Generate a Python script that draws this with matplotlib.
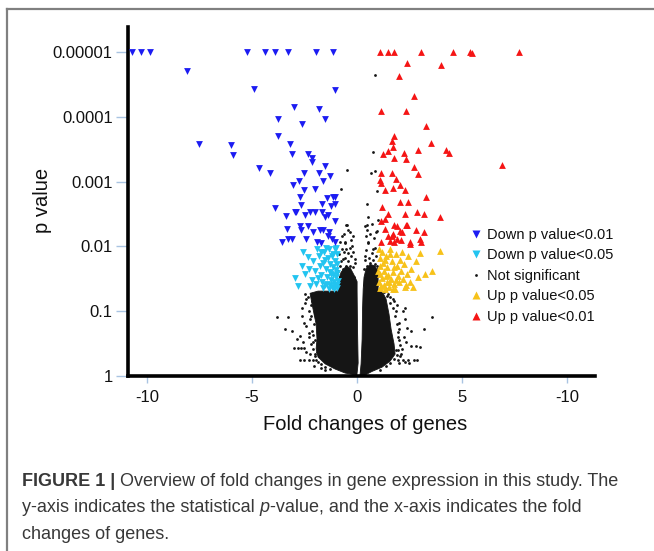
import matplotlib
matplotlib.use('Agg')
import matplotlib.pyplot as plt
from matplotlib.lines import Line2D
from matplotlib.ticker import NullLocator

plt.rcParams['font.family'] = ['Liberation Sans', 'DejaVu Sans']

# ---------------- data ----------------
xtick_vals = [-10, -5, 0, 5, 10]
xtick_labels = ['-10', '-5', '0', '5', '-10']
ytick_vals = [1e-5, 1e-4, 1e-3, 1e-2, 1e-1, 1]
ytick_labels = ['0.00001', '0.0001', '0.001', '0.01', '0.1', '1']

legend_labels = ['Down p value<0.01', 'Down p value<0.05', 'Not significant',
                 'Up p value<0.05', 'Up p value<0.01']

down01_x = [-10.72, -10.30, -9.85, -5.24, -4.39, -3.90, -3.26, -1.97, -1.12,
            -8.07, -4.88, -1.04, -2.99, -1.80, -3.74, -1.53, -2.61, -3.77, -7.5, -5.99,
            -3.2, -5.88, -3.09, -2.34, -2.13, -2.12, -1.53, -4.64, -4.12, -2.5, -1.8, -1.28,
            -3.04, -2.75, -1.61, -2.5, -2.0, -2.7, -1.42, -1.13, -1.04,
            -3.9, -2.67, -2.94, -1.64, -1.04, -1.23, -3.37, -2.47, -1.99, -1.67, -1.36,
            -1.04, -2.31, -1.75, -3.34, -2.67, -2.07, -1.36, -3.26, -3.55, -2.42, -1.91,
            -1.2, -1.72, -1.04, -1.51, -2.7, -3.1, -1.32, -1.61, -2.23, -2.9]
down01_p = [1e-5, 1e-5, 1e-5, 1e-5, 1e-5, 1e-5, 1e-5, 1e-5, 1e-5,
            1.96e-5, 3.75e-5, 3.9e-5, 7.1e-5, 7.5e-5, 1.1e-4, 1.1e-4, 1.31e-4, 2.0e-4, 2.67e-4, 2.75e-4,
            2.67e-4, 3.9e-4, 3.7e-4, 3.7e-4, 4.4e-4, 5.0e-4, 5.7e-4, 6.2e-4, 7.5e-4, 7.5e-4, 7.5e-4, 8.1e-4,
            1.11e-3, 9.7e-4, 9.7e-4, 1.37e-3, 1.28e-3, 1.74e-3, 1.8e-3, 1.74e-3, 1.7e-3,
            2.6e-3, 2.3e-3, 2.9e-3, 2.2e-3, 2.2e-3, 2.4e-3, 3.4e-3, 3.3e-3, 3.0e-3, 2.9e-3, 3.3e-3,
            4.1e-3, 4.8e-3, 5.5e-3, 5.3e-3, 5.5e-3, 6.1e-3, 6.9e-3, 7.8e-3, 8.7e-3, 7.8e-3, 8.5e-3,
            7.6e-3, 9.0e-3, 8.7e-3, 3.5e-3, 4.8e-3, 7.6e-3, 6.1e-3, 5.5e-3, 3.0e-3, 2.9e-3]

down05_x = [-2.94, -2.8, -2.56, -2.32, -1.9, -2.23, -2.6, -2.45, -2.1, -2.0, -2.15, -1.95,
            -1.8, -1.75, -1.7, -1.65, -1.6, -1.55, -1.5, -1.45, -1.42, -1.4, -1.35, -1.3,
            -1.28, -1.25, -1.2, -1.18, -1.15, -1.12, -1.1, -1.08, -1.05, -1.02, -1.0, -0.98,
            -0.96, -0.94, -0.93, -0.92, -1.6, -1.38, -1.22, -1.05, -0.95, -1.85, -1.33,
            -1.12, -1.5, -1.7, -2.3, -1.0, -0.97, -1.27, -1.45]
down05_p = [0.031, 0.041, 0.012, 0.0148, 0.011, 0.041, 0.02, 0.027, 0.017, 0.024, 0.033, 0.038,
            0.014, 0.02, 0.028, 0.035, 0.044, 0.012, 0.016, 0.022, 0.03, 0.038, 0.011, 0.019,
            0.025, 0.033, 0.042, 0.014, 0.021, 0.028, 0.036, 0.045, 0.011, 0.017, 0.023, 0.03,
            0.039, 0.013, 0.026, 0.034, 0.018, 0.015, 0.027, 0.04, 0.019, 0.031, 0.045,
            0.013, 0.04, 0.012, 0.022, 0.0105, 0.044, 0.039, 0.0105]

up05_x = [3.96, 3.56, 3.25, 3.0, 2.69, 2.3, 2.15, 1.05, 1.1, 1.08, 1.12, 1.06, 1.1, 1.2,
          1.25, 1.3, 1.22, 1.28, 1.35, 1.4, 1.45, 1.5, 1.42, 1.55, 1.6, 1.65, 1.7, 1.62,
          1.75, 1.8, 1.85, 1.9, 1.95, 2.0, 2.05, 2.1, 2.2, 2.25, 2.4, 2.45, 2.6, 2.55, 2.8,
          1.15, 1.32, 1.52, 1.72, 1.88, 2.35, 1.02, 1.58, 2.9, 1.38, 1.78]
up05_p = [0.0118, 0.024, 0.027, 0.0125, 0.043, 0.043, 0.012, 0.011, 0.015, 0.02, 0.027, 0.035,
          0.044, 0.012, 0.018, 0.024, 0.031, 0.039, 0.046, 0.014, 0.021, 0.028, 0.035, 0.042,
          0.011, 0.017, 0.025, 0.032, 0.038, 0.045, 0.013, 0.02, 0.029, 0.036, 0.016, 0.024,
          0.032, 0.019, 0.027, 0.014, 0.022, 0.035, 0.017, 0.041, 0.016, 0.036, 0.046, 0.033,
          0.039, 0.024, 0.013, 0.03, 0.029, 0.021]

up01_x = [1.10, 1.50, 1.76, 3.05, 4.60, 5.39, 5.47, 7.71, 2.41, 4.0, 2.02, 2.71, 1.17, 2.36,
          3.31, 1.76, 1.66, 1.70, 3.55, 1.5, 1.26, 2.26, 2.89, 4.24, 4.4, 1.76, 2.36, 6.91,
          2.71, 1.17, 1.66, 2.89, 1.86, 1.1, 1.17, 2.06, 1.36, 1.7, 2.3, 3.31,
          2.06, 2.45, 1.2, 1.46, 1.17, 2.3, 2.85, 3.2, 3.98, 1.76, 2.36, 1.36, 2.06, 2.81,
          3.21, 1.66, 2.1, 1.17, 1.76, 2.55, 3.05, 1.58, 1.9, 1.5, 1.74, 2.14, 2.53, 3.0,
          1.9, 2.38, 1.34]
up01_p = [1e-5, 1e-5, 1e-5, 1e-5, 1e-5, 1e-5, 1.03e-5, 1e-5, 1.49e-5, 1.58e-5, 2.34e-5, 4.7e-5,
          8.1e-5, 8.1e-5, 1.37e-4, 1.96e-4, 2.34e-4, 2.97e-4, 2.54e-4, 3.4e-4, 3.7e-4, 3.56e-4,
          3.2e-4, 3.3e-4, 3.56e-4, 4.3e-4, 4.5e-4, 5.6e-4, 6.0e-4, 7.4e-4, 7.5e-4, 7.6e-4,
          9.0e-4, 9.5e-4, 1.04e-3, 1.13e-3, 1.36e-3, 1.27e-3, 1.33e-3, 1.74e-3,
          2.1e-3, 2.05e-3, 2.5e-3, 3.2e-3, 4.1e-3, 3.2e-3, 3.0e-3, 3.2e-3, 3.5e-3, 4.6e-3,
          4.6e-3, 5.3e-3, 5.8e-3, 5.5e-3, 6.1e-3, 6.9e-3, 8.0e-3, 8.5e-3, 8.7e-3, 9.3e-3,
          8.5e-3, 8.3e-3, 7.8e-3, 6.9e-3, 6.5e-3, 6.1e-3, 8.7e-3, 7.8e-3, 4.9e-3, 4.6e-3, 3.8e-3]

# scattered non-significant genes (read individually)
ns_x = [0.86, 0.77, 0.67, 0.86, 0.96, -0.48, -0.76, 0.47, -0.52, 0.37, -0.72, -0.52,
        -0.48, -0.32, -0.56, -0.72, -0.4, -0.24, -0.64, -0.8, -0.32, -0.48, -0.17, -0.8, -0.09,
        0.47, 0.95, 0.55, 0.79, 0.39, 0.63, 0.95, 0.47, 0.79, 1.02, 0.5,
        1.6, 1.9, 2.2, 3.6, 3.2, 2.6, 2.35, 2.6, 2.8, 3.0, 2.0, 1.95, 2.1, 1.95, 2.2, 2.45,
        2.7, 2.85, 2.05, 1.85, 1.75, 2.3, 1.5, 1.4,
        -3.8, -3.3, -3.4, -2.85, -3.1, -2.6, -2.4, -2.5, -2.3, -2.2, -3.0, -2.8, -2.65, -2.5,
        -2.7, -2.5, -2.3, -2.1, -1.95, -2.1, -2.0, -2.4, -2.2, -2.45, -2.05, -1.7, -1.5,
        # left strip between down-regulated genes and zero
        -0.85, -0.7, -0.55, -0.4, -0.25, -0.12, -0.8, -0.6, -0.45, -0.3, -0.15, -0.88, -0.66,
        -0.5, -0.36, -0.2, -0.78, -0.58, -0.42, -0.28, -0.1, -0.85, -0.62, -0.35, -0.18,
        -0.55, -0.3, -0.8, -0.6, -0.4, -0.2,
        # right strip
        0.35, 0.5, 0.65, 0.8, 0.95, 0.42, 0.58, 0.72, 0.9, 0.33, 0.5, 0.68, 0.85, 0.98, 0.4,
        0.6, 0.75, 0.92, 0.45, 0.7, 0.88, 0.55, 0.8, 0.62, 0.42, 0.9, 0.7, 0.55,
        # ragged left edge of the cloud
        -2.35, -2.45, -2.3, -2.25, -2.4, -2.15, -2.3, -2.2, -2.1, -2.25, -2.0, -1.85, -1.7,
        -1.5, -1.3, -2.6, -2.7, -2.55, -2.0, -2.05, -2.0, -1.9, -2.12, -1.98, -2.08,
        # ragged right edge of the cloud
        1.3, 1.45, 1.6, 1.7, 1.8, 1.9, 1.95, 2.0, 2.05, 1.95, 1.9, 1.75, 1.6, 1.4, 1.1,
        2.3, 2.4, 2.25, 2.15, 2.0, 2.3, 2.5, 1.88, 2.02, 1.7]
ns_p = [2.3e-5, 3.5e-4, 7.3e-4, 6.9e-4, 1.4e-3, 6.6e-4, 1.3e-3, 2.2e-3, 4.6e-3, 4.9e-3, 6.9e-3, 0.011,
        4.6e-3, 6.1e-3, 8.7e-3, 0.011, 0.0125, 0.0099, 0.0158, 0.02, 0.02, 0.025, 0.032, 0.034, 0.0158,
        5.5e-3, 5.8e-3, 8.7e-3, 0.011, 0.014, 0.018, 0.02, 0.025, 0.032, 3.9e-3, 4.6e-3,
        0.06, 0.08, 0.1, 0.124, 0.19, 0.2, 0.3, 0.35, 0.35, 0.36, 0.15, 0.25, 0.45, 0.56, 0.56, 0.56,
        0.56, 0.56, 0.5, 0.4, 0.07, 0.13, 0.055, 0.045,
        0.124, 0.124, 0.19, 0.27, 0.2, 0.09, 0.065, 0.15, 0.22, 0.12, 0.37, 0.37, 0.37, 0.37,
        0.56, 0.56, 0.56, 0.56, 0.56, 0.3, 0.45, 0.42, 0.08, 0.055, 0.7, 0.75, 0.8,
        0.04, 0.038, 0.036, 0.039, 0.035, 0.04, 0.03, 0.028, 0.031, 0.027, 0.03, 0.024, 0.022,
        0.02, 0.023, 0.021, 0.017, 0.015, 0.017, 0.014, 0.018, 0.013, 0.012, 0.0105, 0.012,
        0.009, 0.008, 0.0085, 0.0065, 0.0055, 0.007,
        0.04, 0.037, 0.04, 0.035, 0.04, 0.03, 0.028, 0.031, 0.027, 0.022, 0.02, 0.023, 0.019,
        0.022, 0.016, 0.015, 0.0165, 0.014, 0.0115, 0.0125, 0.0105, 0.009, 0.0075, 0.0065,
        0.007, 0.006, 0.0045, 0.0035,
        0.06, 0.075, 0.1, 0.13, 0.17, 0.2, 0.25, 0.32, 0.38, 0.45, 0.5, 0.6, 0.66,
        0.72, 0.78, 0.12, 0.24, 0.3, 0.09, 0.16, 0.28, 0.42, 0.07, 0.11, 0.23,
        0.05, 0.058, 0.075, 0.09, 0.12, 0.16, 0.21, 0.28, 0.33, 0.4, 0.48, 0.55, 0.63, 0.7,
        0.8, 0.09, 0.18, 0.25, 0.38, 0.62, 0.6, 0.62, 0.1, 0.19, 0.065]

# outline of the dense (solid) cloud of non-significant genes
core_left_x = [-0.04, -0.56, -1.04, -1.51, -1.85, -1.94, -1.9, -1.94, -2.04, -2.18, -2.23,
               -1.85, -0.94, -0.90, -0.75, -0.5, -0.3, -0.13, 0.01, 0.01, 0.03, 0.06, 0.0]
core_left_p = [0.966, 0.90, 0.78, 0.65, 0.51, 0.38, 0.27, 0.158, 0.111, 0.065, 0.053,
               0.049, 0.049, 0.035, 0.025, 0.02, 0.022, 0.028, 0.035, 0.049, 0.19, 0.63, 0.966]
core_right_x = [0.15, 0.2, 0.25, 0.27, 0.3, 0.34, 0.44, 0.63, 0.87, 1.01, 1.01, 1.25, 1.39,
                1.53, 1.63, 1.77, 1.82, 1.58, 1.2, 0.72, 0.39]
core_right_p = [0.966, 0.65, 0.27, 0.093, 0.046, 0.03, 0.022, 0.019, 0.02, 0.026, 0.046,
                0.053, 0.065, 0.111, 0.19, 0.32, 0.46, 0.59, 0.73, 0.85, 0.966]

# ---------------- figure ----------------
W, H = 654, 551
fig = plt.figure(figsize=(W / 100, H / 100), dpi=100)
fig.patch.set_facecolor('white')

ax = fig.add_axes([128 / W, 1 - 376 / H, 467 / W, 349 / H])
ax.set_yscale('log')
ax.set_xlim(-10.9, 11.34)
ax.set_ylim(0.966, 4.12e-6)

c_blue = '#1c1cf2'
c_cyan = '#22c4f0'
c_black = '#151515'
c_yellow = '#f7c21a'
c_red = '#f51515'

ax.fill(core_left_x, core_left_p, color=c_black, lw=0.6, ec=c_black, zorder=2)
ax.fill(core_right_x, core_right_p, color=c_black, lw=0.6, ec=c_black, zorder=2)
ax.scatter(ns_x, ns_p, s=4, c=c_black, marker='o', lw=0, zorder=3)
ax.scatter(down05_x, down05_p, s=24, c=c_cyan, marker='v', lw=0, zorder=4)
ax.scatter(up05_x, up05_p, s=24, c=c_yellow, marker='^', lw=0, zorder=4)
ax.scatter(down01_x, down01_p, s=24, c=c_blue, marker='v', lw=0, zorder=5)
ax.scatter(up01_x, up01_p, s=24, c=c_red, marker='^', lw=0, zorder=5)

ax.set_yticks(ytick_vals)
ax.set_yticklabels(ytick_labels)
ax.yaxis.set_minor_locator(NullLocator())
ax.set_xticks(xtick_vals)
ax.set_xticklabels(xtick_labels)
tick_col = '#a9c4e2'
ax.tick_params(axis='y', length=8.5, width=1, color=tick_col, labelsize=12, pad=2.5,
               labelcolor='#111111')
ax.tick_params(axis='x', length=5, width=1, color=tick_col, labelsize=12, pad=5,
               labelcolor='#111111')
for s in ['top', 'right']:
    ax.spines[s].set_visible(False)
for s in ['left', 'bottom']:
    ax.spines[s].set_linewidth(2.6)
    ax.spines[s].set_color('black')

fig.text(42 / W, 1 - 200 / H, 'p value', rotation=90, ha='center', va='center',
         fontsize=14.5, color='#111111')
fig.text(365 / W, 1 - 425 / H, 'Fold changes of genes', ha='center', va='center',
         fontsize=14.5, color='#111111')

handles = [
    Line2D([], [], ls='', marker='v', color=c_blue, markersize=5.5, mec='none'),
    Line2D([], [], ls='', marker='v', color=c_cyan, markersize=5.5, mec='none'),
    Line2D([], [], ls='', marker='o', color=c_black, markersize=2, mec='none'),
    Line2D([], [], ls='', marker='^', color=c_yellow, markersize=5.5, mec='none'),
    Line2D([], [], ls='', marker='^', color=c_red, markersize=5.5, mec='none'),
]
fig.legend(handles, legend_labels, loc='upper left', bbox_to_anchor=(471.6 / W, 1 - 228 / H),
           bbox_transform=fig.transFigure, frameon=False, fontsize=10.5,
           handlelength=0.6, handletextpad=0.45, labelspacing=0.44, borderpad=0,
           borderaxespad=0, labelcolor='#111111')

# frame
frame_col = '#808080'
fig.add_artist(Line2D([7 / W, 7 / W], [1 - 9 / H, 0], transform=fig.transFigure,
                      color=frame_col, lw=1.6))
fig.add_artist(Line2D([7 / W, 1], [1 - 9 / H, 1 - 9 / H], transform=fig.transFigure,
                      color=frame_col, lw=1.6))

# caption
renderer = fig.canvas.get_renderer()
cap_col = '#383838'
cap_fs = 12.95


def put(x, y, s, **kw):
    t = fig.text(x / W, 1 - y / H, s, va='baseline', ha='left', fontsize=cap_fs,
                 color=cap_col, **kw)
    bb = t.get_window_extent(renderer)
    return x + bb.width


x = put(22, 486, 'FIGURE 1 | ', fontweight='bold')
put(x, 486, 'Overview of fold changes in gene expression in this study. The')
x = put(22, 512, 'y-axis indicates the statistical ')
x = put(x, 512, 'p', fontstyle='italic')
put(x, 512, '-value, and the x-axis indicates the fold')
put(22, 539, 'changes of genes.')

fig.savefig('out.png', dpi=100)
